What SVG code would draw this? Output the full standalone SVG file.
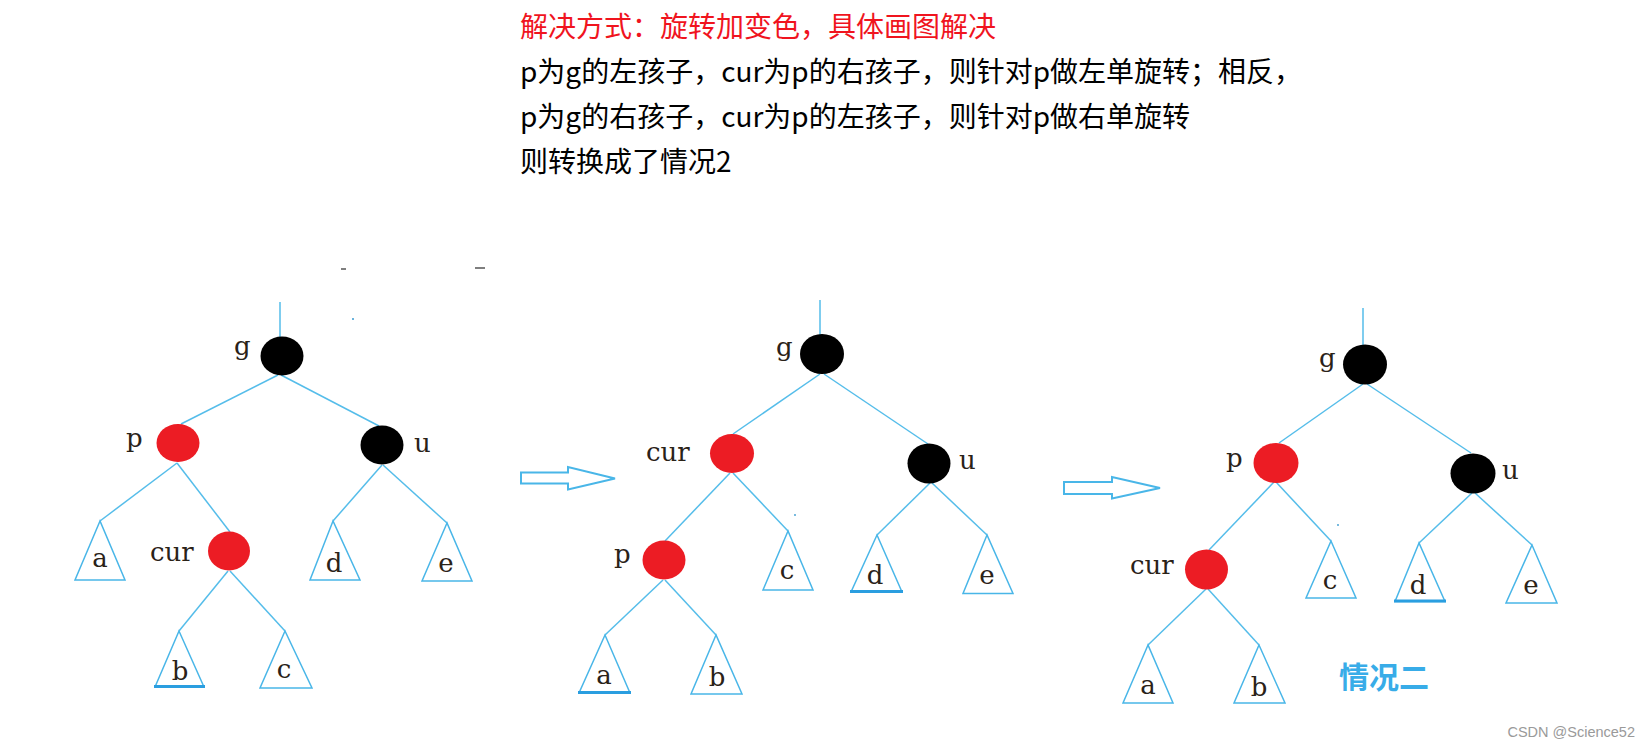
<svg xmlns="http://www.w3.org/2000/svg" width="1651" height="748" viewBox="0 0 1651 748">
<style>
.bg{fill:#fff}
.t{font-family:"Noto Sans CJK SC","Microsoft YaHei",sans-serif;font-size:28px;fill:#000}
.red{fill:#f0141e}
.e{stroke:#55bdea;stroke-width:1.5;fill:none}
.tri{stroke:#49b6e8;stroke-width:1.5;fill:#fff}
.thick{stroke:#2a9ee0;stroke-width:3}
.nb{fill:#000}
.nr{fill:#ec1c24}
.lb{font-family:"DejaVu Serif",serif;font-size:26px;fill:#2a2218}
.lbm{text-anchor:middle}
.arr{stroke:#49b6e8;stroke-width:2;fill:#fff}
.case{font-family:"Noto Sans CJK SC",sans-serif;font-size:30px;font-weight:bold;fill:#38ace8}
.wm{font-family:"Liberation Sans",Arial,sans-serif;font-size:14.5px;fill:#9a9a9a}
.mark{stroke:#555;stroke-width:1.5}
</style>
<rect class="bg" x="0" y="0" width="1651" height="748"/>
<g id="caption">
<text class="t red" x="520" y="37">解决方式：旋转加变色，具体画图解决</text>
<text class="t" x="520" y="82">p为g的左孩子，cur为p的右孩子，则针对p做左单旋转；相反，</text>
<text class="t" x="520" y="127">p为g的右孩子，cur为p的左孩子，则针对p做右单旋转</text>
<text class="t" x="520" y="172">则转换成了情况2</text>
</g>
<g id="artifacts">
<line class="mark" x1="341" y1="269" x2="346" y2="269"/>
<line class="mark" x1="475" y1="268" x2="485" y2="268"/>
<circle cx="353" cy="319" r="1" fill="#3a9ad0"/>
<circle cx="795" cy="515" r="0.9" fill="#3a9ad0"/>
<circle cx="1338" cy="525" r="0.9" fill="#3a9ad0"/>
</g>
<g id="connectors">
<!-- tree 1 -->
<line class="e" x1="280" y1="302" x2="280" y2="337"/>
<line class="e" x1="278" y1="375" x2="181" y2="424"/>
<line class="e" x1="281" y1="375" x2="379" y2="426"/>
<line class="e" x1="177" y1="463" x2="100" y2="521"/>
<line class="e" x1="177" y1="463" x2="230" y2="532"/>
<line class="e" x1="228" y1="571" x2="179" y2="631"/>
<line class="e" x1="230" y1="571" x2="285" y2="631"/>
<line class="e" x1="382" y1="465" x2="333" y2="521"/>
<line class="e" x1="383" y1="465" x2="447" y2="523"/>
<!-- tree 2 -->
<line class="e" x1="820" y1="300" x2="820" y2="335"/>
<line class="e" x1="820" y1="374" x2="733" y2="434"/>
<line class="e" x1="824" y1="374" x2="928" y2="444"/>
<line class="e" x1="730" y1="473" x2="665" y2="541"/>
<line class="e" x1="733" y1="473" x2="788" y2="531"/>
<line class="e" x1="930" y1="483" x2="877" y2="535"/>
<line class="e" x1="932" y1="483" x2="987" y2="535"/>
<line class="e" x1="663" y1="580" x2="605" y2="635"/>
<line class="e" x1="665" y1="580" x2="716" y2="635"/>
<!-- tree 3 -->
<line class="e" x1="1363" y1="308" x2="1363" y2="345"/>
<line class="e" x1="1363" y1="384" x2="1279" y2="443"/>
<line class="e" x1="1367" y1="384" x2="1471" y2="453"/>
<line class="e" x1="1274" y1="482" x2="1209" y2="550"/>
<line class="e" x1="1276" y1="482" x2="1331" y2="541"/>
<line class="e" x1="1472" y1="493" x2="1419" y2="543"/>
<line class="e" x1="1475" y1="493" x2="1532" y2="545"/>
<line class="e" x1="1206" y1="589" x2="1148" y2="645"/>
<line class="e" x1="1208" y1="589" x2="1259" y2="645"/>
</g>
<g id="arrow1"><path class="arr" d="M521,472.5 L568,472.5 L568,467 L615,478.5 L568,489.5 L568,483.5 L521,483.5 Z"/></g>
<g id="arrow2"><path class="arr" d="M1064,482 L1112,482 L1112,477 L1160,488 L1112,498.5 L1112,494 L1064,494 Z"/></g>
<!-- tree 1 nodes -->
<g id="t1-g"><ellipse class="nb" cx="282" cy="356" rx="21.5" ry="19.5"/><text class="lb" x="234" y="355">g</text></g>
<g id="t1-p"><ellipse class="nr" cx="178" cy="443" rx="21.5" ry="19"/><text class="lb" x="126" y="447">p</text></g>
<g id="t1-u"><ellipse class="nb" cx="382" cy="445" rx="21.5" ry="19.5"/><text class="lb" x="414" y="452">u</text></g>
<g id="t1-cur"><ellipse class="nr" cx="229" cy="551" rx="21" ry="19.5"/><text class="lb" x="150" y="561">cur</text></g>
<g id="t1-a"><polygon class="tri" points="100,521 75,580 125,580"/><text class="lb lbm" x="100" y="567">a</text></g>
<g id="t1-b"><polygon class="tri" points="179,631 155,687 204,687"/><line class="thick" x1="154" y1="686.5" x2="205" y2="686.5"/><text class="lb lbm" x="180" y="680">b</text></g>
<g id="t1-c"><polygon class="tri" points="285,631 260,688 312,688"/><text class="lb lbm" x="284" y="678">c</text></g>
<g id="t1-d"><polygon class="tri" points="333,521 310,580 360,580"/><text class="lb lbm" x="334" y="572">d</text></g>
<g id="t1-e"><polygon class="tri" points="447,523 422,581 472,581"/><text class="lb lbm" x="446" y="572">e</text></g>
<!-- tree 2 nodes -->
<g id="t2-g"><ellipse class="nb" cx="822" cy="354" rx="22" ry="20"/><text class="lb" x="776" y="356">g</text></g>
<g id="t2-cur"><ellipse class="nr" cx="732" cy="453.5" rx="22" ry="19.5"/><text class="lb" x="646" y="461">cur</text></g>
<g id="t2-u"><ellipse class="nb" cx="929" cy="463.5" rx="21.5" ry="20"/><text class="lb" x="959" y="469">u</text></g>
<g id="t2-p"><ellipse class="nr" cx="664" cy="560" rx="21.5" ry="19.5"/><text class="lb" x="614" y="563">p</text></g>
<g id="t2-c"><polygon class="tri" points="788,531 763,590 813,590"/><text class="lb lbm" x="787" y="579">c</text></g>
<g id="t2-d"><polygon class="tri" points="877,535 851,592 902,592"/><line class="thick" x1="850" y1="591.5" x2="903" y2="591.5"/><text class="lb lbm" x="875" y="584">d</text></g>
<g id="t2-e"><polygon class="tri" points="987,535 963,593.5 1013,593.5"/><text class="lb lbm" x="987" y="584">e</text></g>
<g id="t2-a"><polygon class="tri" points="605,635 579,693 630,693"/><line class="thick" x1="578" y1="692.5" x2="631" y2="692.5"/><text class="lb lbm" x="604" y="684">a</text></g>
<g id="t2-b"><polygon class="tri" points="716,635 691,694 742,694"/><text class="lb lbm" x="717" y="686">b</text></g>
<!-- tree 3 nodes -->
<g id="t3-g"><ellipse class="nb" cx="1365" cy="364.5" rx="22" ry="20"/><text class="lb" x="1319" y="367">g</text></g>
<g id="t3-p"><ellipse class="nr" cx="1276" cy="463" rx="22.5" ry="20"/><text class="lb" x="1226" y="467">p</text></g>
<g id="t3-u"><ellipse class="nb" cx="1473" cy="473.5" rx="22.5" ry="20"/><text class="lb" x="1502" y="479">u</text></g>
<g id="t3-cur"><ellipse class="nr" cx="1206.5" cy="569.5" rx="21.5" ry="20"/><text class="lb" x="1130" y="574">cur</text></g>
<g id="t3-c"><polygon class="tri" points="1331,541 1306,598 1356,598"/><text class="lb lbm" x="1330" y="589">c</text></g>
<g id="t3-d"><polygon class="tri" points="1419,543 1395,601.5 1445,601.5"/><line class="thick" x1="1394" y1="601" x2="1446" y2="601"/><text class="lb lbm" x="1418" y="594">d</text></g>
<g id="t3-e"><polygon class="tri" points="1532,545 1506,603 1557,603"/><text class="lb lbm" x="1531" y="594">e</text></g>
<g id="t3-a"><polygon class="tri" points="1148,645 1123,703 1173,703"/><text class="lb lbm" x="1148" y="694">a</text></g>
<g id="t3-b"><polygon class="tri" points="1259,645 1234,703 1285,703"/><text class="lb lbm" x="1259" y="696">b</text></g>
<g id="case2"><text class="case" x="1339" y="688">情况二</text></g>
<g id="watermark"><text class="wm" x="1635" y="737" text-anchor="end">CSDN @Science52</text></g>
</svg>
